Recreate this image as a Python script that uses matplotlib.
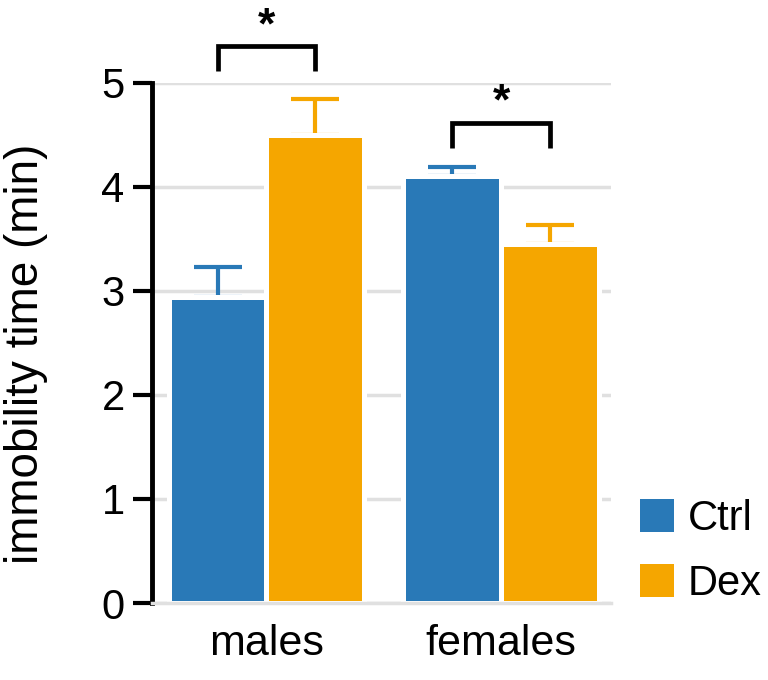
import numpy as np
import matplotlib
matplotlib.use("Agg")
import matplotlib.pyplot as plt
from matplotlib.patches import Patch

plt.rcParams['font.family'] = ['Liberation Sans', 'DejaVu Sans']

# data
groups = ['males', 'females']
conditions = ['Ctrl', 'Dex']
ctrl_mean = [2.94, 4.10]
dex_mean = [4.50, 3.45]
ctrl_err = [0.29, 0.09]
dex_err = [0.34, 0.18]
# significance brackets: bracket top, leg bottom, star baseline, label
sig_top = [5.355, 4.616]
sig_leg = [5.115, 4.376]
sig_star = [5.424, 4.693]
sig_label = ['*', '*']

colors = ['#2979b7', '#f5a600']
grid_color = '#e0e0e0'

fig = plt.figure(figsize=(7.68, 6.8), dpi=100)
ax = fig.add_axes([0.1979, 0.1132, 0.5977, 0.7651])

x = np.arange(len(groups))
width = 0.417
means = [ctrl_mean, dex_mean]
errs = [ctrl_err, dex_err]
for i, (m, e, c) in enumerate(zip(means, errs, colors)):
    xpos = x + (i - 0.5) * width
    ax.errorbar(xpos, m, yerr=[np.zeros(len(m)), e], fmt='none', ecolor=c,
                elinewidth=3, capsize=17.6, capthick=3, zorder=2)
    ax.bar(xpos, m, width=width, color=c, edgecolor='white', linewidth=3.6,
           zorder=3, label=conditions[i])

# significance brackets between Ctrl and Dex
for g, top, leg, ys, lab in zip(x, sig_top, sig_leg, sig_star, sig_label):
    x0 = g - 0.5 * width
    x1 = g + 0.5 * width
    ax.plot([x0, x0, x1, x1], [leg, top, top, leg], color='black', lw=3.4,
            solid_joinstyle='miter', solid_capstyle='butt', clip_on=False, zorder=5)
    ax.text(g, ys, lab, ha='center', va='baseline', fontsize=32,
            fontweight='bold', clip_on=False)

ax.set_xlim(-0.488, 1.469)
ax.set_ylim(0, 5)
ax.set_yticks(range(0, 6))
ax.set_xticks(x)
ax.set_xticklabels(groups, fontsize=31)
ax.tick_params(axis='x', length=0, pad=15)
ax.tick_params(axis='y', direction='out', length=13.7, width=3, labelsize=30, pad=6)

for s in ['top', 'right', 'bottom']:
    ax.spines[s].set_visible(False)
ax.spines['left'].set_linewidth(3.5)

ax.set_axisbelow(True)
ax.yaxis.grid(True, color=grid_color, lw=2.5)
ax.axhline(0, color=grid_color, lw=2.5, zorder=4, clip_on=False)

ax.set_ylabel('immobility time (min)', fontsize=33)
ax.yaxis.set_label_coords(-0.227, 0.479)

handles = [Patch(facecolor=c, edgecolor='none') for c in colors]
ax.legend(handles, conditions, loc='center left', bbox_to_anchor=(0.833, 0.189),
          bbox_transform=fig.transFigure, frameon=False, fontsize=30,
          handlelength=0.82, handleheight=0.82, handletextpad=0.34,
          labelspacing=0.6, borderpad=0, borderaxespad=0)

fig.savefig('out.png', dpi=100)
